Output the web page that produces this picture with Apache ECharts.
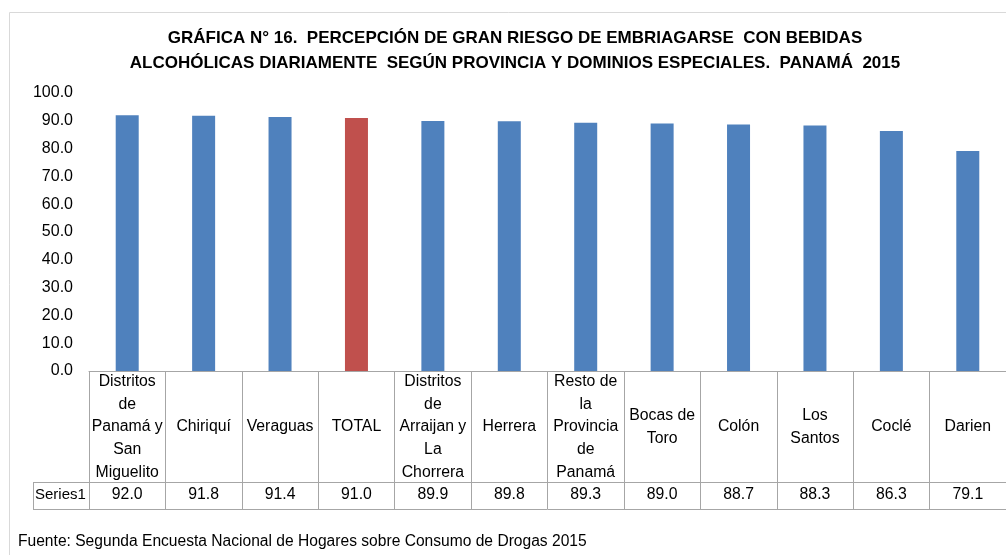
<!DOCTYPE html>
<html>
<head>
<meta charset="UTF-8">
<title>Gráfica 16</title>
<script src="https://cdn.jsdelivr.net/npm/echarts@6/dist/echarts.min.js"></script>
<style>
	body { margin: 0; background: #fff; }
	#chart { width: 1006px; height: 555px; }
</style>
</head>
<body>
	<div id="chart"></div>
<script type="text/javascript">
	// categorias (con los saltos de linea de la tabla original)
	var categorias = ['Distritos\nde\nPanamá y\nSan\nMiguelito', 'Chiriquí', 'Veraguas', 'TOTAL',
		'Distritos\nde\nArraijan y\nLa\nChorrera', 'Herrera', 'Resto de\nla\nProvincia\nde\nPanamá',
		'Bocas de\nToro', 'Colón', 'Los\nSantos', 'Coclé', 'Darien'];
	var valores = [92.0, 91.8, 91.4, 91.0, 89.9, 89.8, 89.3, 89.0, 88.7, 88.3, 86.3, 79.1];
	var nombreSerie = 'Series1';
	var destacado = 'TOTAL';

	var fuente = "'Liberation Sans', sans-serif";
	var colorLinea = '#a6a6a6';

	var datos = [];
	for (var i = 0; i < valores.length; i++) {
		datos.push({
			value: valores[i],
			itemStyle: { color: categorias[i] == destacado ? '#c0504d' : '#4f81bd' }
		});
	}

	var myChart = echarts.init(document.getElementById('chart'));
	var option = {
		animation: false,
		textStyle: { fontFamily: fuente },
		title: {
			text: 'GRÁFICA N° 16.  PERCEPCIÓN DE GRAN RIESGO DE EMBRIAGARSE  CON BEBIDAS\nALCOHÓLICAS DIARIAMENTE  SEGÚN PROVINCIA Y DOMINIOS ESPECIALES.  PANAMÁ  2015',
			left: 510,
			top: 21,
			textAlign: 'center',
			textStyle: { fontFamily: fuente, fontSize: 17, fontWeight: 'bold', color: '#000', lineHeight: 25 }
		},
		grid: { left: 89, right: -1, top: 93, bottom: 184, containLabel: false },
		xAxis: [{
			type: 'category',
			data: categorias,
			axisLine: { show: true, lineStyle: { color: colorLinea, width: 1 } },
			axisTick: { show: true, interval: 0, length: 138, lineStyle: { color: colorLinea } },
			axisLabel: {
				interval: 0, margin: 56, verticalAlign: 'middle', align: 'center',
				fontSize: 15.8, lineHeight: 22.7, color: '#000', fontFamily: fuente
			}
		}, {
			type: 'category',
			position: 'bottom',
			offset: 111,
			data: valores.map(function (v) { return v.toFixed(1); }),
			axisLine: { show: true, lineStyle: { color: colorLinea } },
			axisTick: { show: false },
			axisLabel: { interval: 0, margin: 13, verticalAlign: 'middle', fontSize: 15.8, color: '#000', fontFamily: fuente }
		}, {
			type: 'category',
			position: 'bottom',
			offset: 138,
			data: categorias,
			axisLine: { show: true, lineStyle: { color: colorLinea } },
			axisTick: { show: false },
			axisLabel: { show: false }
		}],
		yAxis: {
			type: 'value',
			min: 0, max: 100, interval: 10,
			axisLine: { show: false },
			axisTick: { show: false },
			splitLine: { show: false },
			axisLabel: {
				margin: 16, fontSize: 16, color: '#000', fontFamily: fuente,
				formatter: function (v) { return v.toFixed(1); }
			}
		},
		series: [{
			name: nombreSerie,
			type: 'bar',
			barWidth: 23,
			data: datos
		}],
		graphic: [
			// marco del grafico
			{ type: 'rect', shape: { x: 9.5, y: 12.5, width: 1010, height: 560 }, style: { fill: null, stroke: '#d9d9d9', lineWidth: 1 }, silent: true },
			// celda "Series1"
			{ type: 'line', shape: { x1: 33, y1: 482.5, x2: 89, y2: 482.5 }, style: { stroke: colorLinea, lineWidth: 1 } },
			{ type: 'line', shape: { x1: 33, y1: 509.5, x2: 89, y2: 509.5 }, style: { stroke: colorLinea, lineWidth: 1 } },
			{ type: 'line', shape: { x1: 33.5, y1: 482, x2: 33.5, y2: 510 }, style: { stroke: colorLinea, lineWidth: 1 } },
			{ type: 'text', left: 35, top: 487, style: { text: nombreSerie, fontSize: 15, fontFamily: fuente, fill: '#000' } },
			{ type: 'text', left: 18, top: 534, style: { text: 'Fuente: Segunda Encuesta Nacional de Hogares sobre Consumo de Drogas 2015', fontSize: 15.6, fontFamily: fuente, fill: '#000' } }
		]
	};
	myChart.setOption(option);
</script>
</body>
</html>
